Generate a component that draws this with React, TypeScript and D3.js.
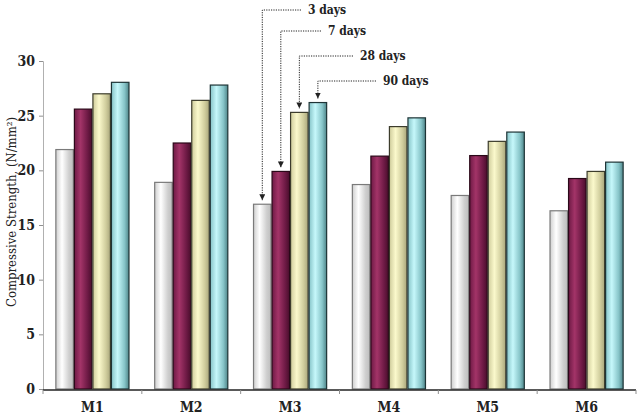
import { useEffect, useRef } from 'react';
import * as d3 from 'd3';

const mixes = ['M1', 'M2', 'M3', 'M4', 'M5', 'M6'];
const ages = ['3 days', '7 days', '28 days', '90 days'];
const day3 = [21.9, 18.9, 16.9, 18.7, 17.7, 16.3];
const day7 = [25.6, 22.5, 19.9, 21.3, 21.35, 19.25];
const day28 = [27.0, 26.4, 25.3, 24.0, 22.65, 19.9];
const day90 = [28.05, 27.8, 26.2, 24.8, 23.5, 20.75];
const yTicks = [0, 5, 10, 15, 20, 25, 30];

// gradient stops per series: edge, highlight, dark edge, outline
const looks = [
  { a: '#cfcfcf', b: '#ffffff', c: '#bdbdbd', line: '#7a7a7a' },
  { a: '#6e1a45', b: '#a33468', c: '#4a0e2c', line: '#2a0818' },
  { a: '#cfcc9c', b: '#fbf9cc', c: '#a9a67c', line: '#3c3c2c' },
  { a: '#86c4c8', b: '#c6f8fb', c: '#4f8589', line: '#1e3436' },
];

export default function App() {
  const svgRef = useRef<SVGSVGElement | null>(null);

  useEffect(() => {
    if (!svgRef.current) return;
    const svg = d3.select(svgRef.current);
    svg.selectAll('*').remove();

    const width = 640;
    const height = 417;
    const margin = { top: 61, right: 4, bottom: 28, left: 43 };
    const font = "'DejaVu Serif Condensed', 'DejaVu Serif', serif";

    const table = mixes.map((m, i) => ({
      mix: m,
      values: [day3[i], day7[i], day28[i], day90[i]],
    }));

    const x0 = d3.scaleBand<string>()
      .domain(mixes)
      .range([margin.left, width - margin.right])
      .paddingInner(0.25)
      .paddingOuter(0.125);
    const x1 = d3.scaleBand<string>()
      .domain(ages)
      .range([0, x0.bandwidth()]);
    const y = d3.scaleLinear()
      .domain([0, 30])
      .range([height - margin.bottom, margin.top]);

    svg.attr('width', width).attr('height', height);

    const defs = svg.append('defs');
    looks.forEach((lk, i) => {
      const g = defs.append('linearGradient')
        .attr('id', `grad${i}`)
        .attr('x1', '0%').attr('x2', '100%').attr('y1', '0%').attr('y2', '0%');
      g.append('stop').attr('offset', '0%').attr('stop-color', lk.a);
      g.append('stop').attr('offset', '35%').attr('stop-color', lk.b);
      g.append('stop').attr('offset', '75%').attr('stop-color', lk.a);
      g.append('stop').attr('offset', '100%').attr('stop-color', lk.c);
    });
    defs.append('marker')
      .attr('id', 'arrow')
      .attr('viewBox', '0 0 10 10')
      .attr('refX', 10).attr('refY', 5)
      .attr('markerWidth', 6).attr('markerHeight', 6)
      .attr('orient', 'auto')
      .attr('markerUnits', 'userSpaceOnUse')
      .append('path')
      .attr('d', 'M0,0 L10,5 L0,10 Z')
      .attr('fill', '#222');

    // --- Y AXIS ---
    const yAxis = svg.append('g')
      .attr('transform', `translate(${margin.left},0)`)
      .call(d3.axisLeft(y).tickValues(yTicks).tickSize(4).tickPadding(4));
    yAxis.select('.domain').attr('stroke', '#b0b0b0');
    yAxis.selectAll('.tick line').attr('stroke', '#909090');
    yAxis.selectAll('.tick text')
      .attr('font-family', font)
      .attr('font-size', 14)
      .attr('font-weight', 'bold')
      .attr('fill', '#222');

    // --- BARS ---
    const groups = svg.append('g')
      .selectAll('g')
      .data(table)
      .join('g')
      .attr('transform', (d) => `translate(${x0(d.mix)},0)`);
    groups.selectAll('rect')
      .data((d) => d.values.map((v, i) => ({ age: ages[i], v, i })))
      .join('rect')
      .attr('x', (d) => (x1(d.age) || 0) + 0.5)
      .attr('y', (d) => y(d.v))
      .attr('width', x1.bandwidth() - 1)
      .attr('height', (d) => y(0) - y(d.v))
      .attr('fill', (d) => `url(#grad${d.i})`)
      .attr('stroke', (d) => looks[d.i].line)
      .attr('stroke-width', 1.2);

    // --- X AXIS ---
    const base = y(0) + 1;
    svg.append('line')
      .attr('x1', margin.left).attr('x2', width - margin.right)
      .attr('y1', base).attr('y2', base)
      .attr('stroke', '#222').attr('stroke-width', 1.5);
    const step = x0.step();
    d3.range(mixes.length + 1).forEach((i) => {
      const xx = margin.left + i * step;
      svg.append('line')
        .attr('x1', xx).attr('x2', xx)
        .attr('y1', base).attr('y2', base + 4)
        .attr('stroke', '#909090');
    });
    svg.append('g')
      .selectAll('text')
      .data(mixes)
      .join('text')
      .attr('x', (d) => (x0(d) || 0) + x0.bandwidth() / 2)
      .attr('y', base + 22)
      .attr('text-anchor', 'middle')
      .attr('font-family', font)
      .attr('font-size', 14)
      .attr('font-weight', 'bold')
      .attr('fill', '#222')
      .text((d) => d);

    // --- Y LABEL ---
    svg.append('text')
      .attr('transform', 'rotate(-90)')
      .attr('x', -212)
      .attr('y', 16)
      .attr('text-anchor', 'middle')
      .attr('font-family', font)
      .attr('font-size', 13)
      .attr('fill', '#222')
      .text('Compressive Strength, (N/mm²)');

    // --- CALLOUTS on M3 ---
    const m3 = table[2];
    const levels = [10, 31, 56, 81];
    const textX = [308, 328, 360, 383];
    ages.forEach((a, i) => {
      const cx = (x0('M3') || 0) + (x1(a) || 0) + x1.bandwidth() / 2;
      const tip = y(m3.values[i]) - 4;
      svg.append('path')
        .attr('d', `M${textX[i] - 7},${levels[i]} H${cx} V${tip}`)
        .attr('fill', 'none')
        .attr('stroke', '#222')
        .attr('stroke-width', 1)
        .attr('stroke-dasharray', '1.2,1.2')
        .attr('marker-end', 'url(#arrow)');
      svg.append('text')
        .attr('x', textX[i])
        .attr('y', levels[i] + 4)
        .attr('font-family', font)
        .attr('font-size', 12)
        .attr('font-weight', 'bold')
        .attr('fill', '#222')
        .text(a);
    });
  }, []);

  return (
    <svg
      ref={svgRef}
      width={640}
      height={417}
      style={{ position: 'absolute', left: 0, top: 0, background: '#fff' }}
    />
  );
}
